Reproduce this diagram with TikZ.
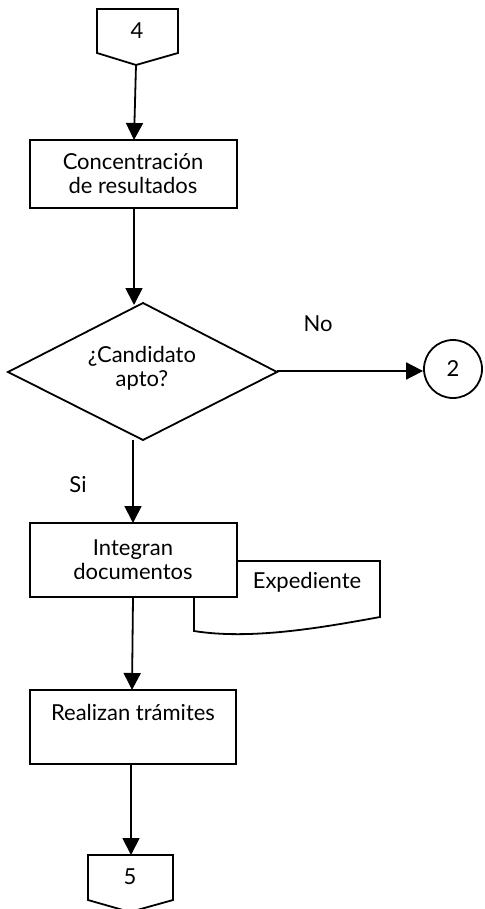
\documentclass[tikz,border=0pt]{standalone}
\usepackage{fontspec}
\setmainfont{Lato}
\usetikzlibrary{arrows.meta}
\begin{document}
\begin{tikzpicture}[x=1pt,y=-1pt,
  line width=1.8pt,
  lbl/.style={inner sep=0pt,font=\fontsize{22}{24}\selectfont,align=center},
  flow/.style={-{Triangle[length=17pt,width=17pt]}}]
\useasboundingbox (0,0) rectangle (484,909);

% off-page connector 4
\draw (97,9) -- (178,9) -- (178,53) -- (136,65) -- (97,53) -- cycle;
\coordinate (c4) at (136,65);
\node[lbl] (n4) at (137,31) {4};

% process: concentracion
\draw (30,140) rectangle (237,208);
\coordinate (b1top) at (134,140);
\coordinate (b1bot) at (134,208);
\node[lbl] (t1) at (133,174) {Concentración\\de resultados};

% decision
\draw (8,372) -- (143,303) -- (277,372) -- (143,440) -- cycle;
\coordinate (dtop) at (134,305);
\coordinate (dright) at (277,371);
\coordinate (dbot) at (133,440);
\node[lbl] (t2) at (142,368) {¿Candidato\\apto?};
\node[lbl] (no) at (318,324) {No};
\node[lbl] (si) at (78,485) {Si};

% connector 2
\node[draw,circle,minimum size=58pt,inner sep=0pt,font=\fontsize{22}{24}\selectfont] (c2) at (453,369) {2};

% document: expediente (behind the box)
\draw (237,561) -- (380,561) -- (380,617)
  .. controls (320,628) and (250,640) .. (194,631) -- (194,597);
\node[lbl] (t3) at (307,582) {Expediente};

% process: integran
\draw[fill=white] (30,523) rectangle (237,597);
\coordinate (b2top) at (133,523);
\coordinate (b2bot) at (133,597);
\node[lbl] (t4) at (133,560) {Integran\\documentos};

% process: realizan
\draw (30,690) rectangle (236,764);
\coordinate (b3top) at (132,690);
\coordinate (b3bot) at (131,764);
\node[lbl] (t5) at (133,712) {Realizan trámites};

% off-page connector 5
\draw (88,855) -- (173,855) -- (173,900) -- (130,912) -- (88,900) -- cycle;
\coordinate (c5) at (131,855);
\node[lbl] (n5) at (130,877) {5};

% connectors
\draw[flow] (c4) -- (b1top);
\draw[flow] (b1bot) -- (dtop);
\draw[flow] (dright) -- (c2.west |- dright);
\draw[flow] (dbot) -- (b2top);
\draw[flow] (b2bot) -- (b3top);
\draw[flow] (b3bot) -- (c5);
\end{tikzpicture}
\end{document}
